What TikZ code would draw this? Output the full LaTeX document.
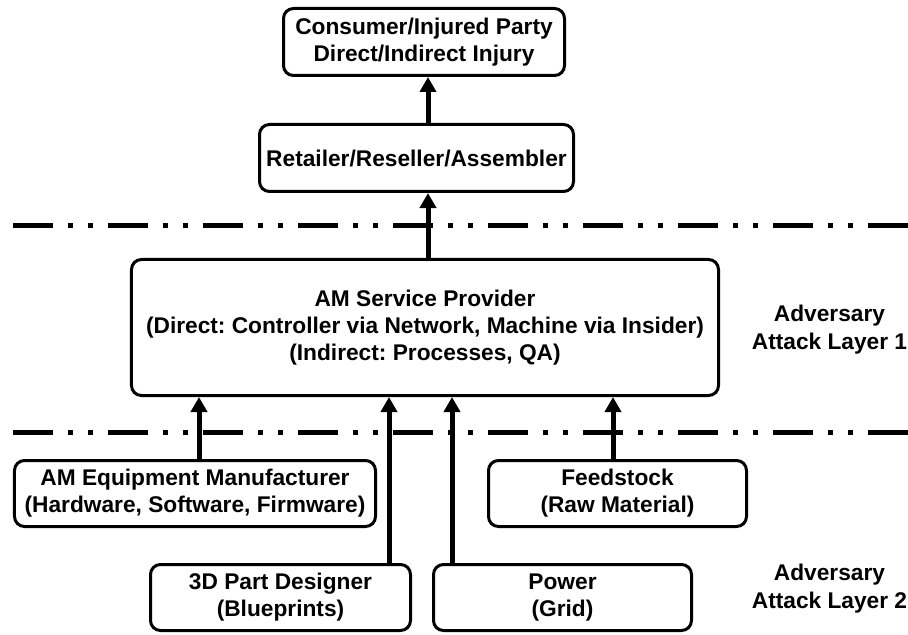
\documentclass[tikz,border=0pt]{standalone}
\usepackage{fontspec}
\setmainfont{Liberation Sans}
\usetikzlibrary{arrows.meta}
\frenchspacing
\begin{document}
\begin{tikzpicture}[x=1bp,y=-1bp,
  box/.style={draw, line width=3bp, rounded corners=10bp, inner sep=0pt, align=center,
    font=\fontsize{22.8}{27}\selectfont\bfseries},
  lbl/.style={inner sep=0pt, align=center, font=\fontsize{22.8}{28}\selectfont\bfseries},
  arr/.style={line width=5bp, -{Triangle[length=15bp,width=16bp]}},
  layerline/.style={line width=5bp, dash pattern=on 40bp off 15bp on 5bp off 15bp on 5bp off 15bp}]
\useasboundingbox (0,0) rectangle (908,635);
% layer lines
\coordinate (l1s) at (13,226); \coordinate (l1e) at (908,226);
\coordinate (l2s) at (13,432); \coordinate (l2e) at (908,432);
\draw[layerline] (l1s) -- (l1e);
\draw[layerline] (l2s) -- (l2e);
% boxes
\node[box, minimum width=281bp, minimum height=67bp] (cons) at (424,42)
  {Consumer/Injured Party\\Direct/Indirect Injury};
\node[box, minimum width=314bp, minimum height=67bp] (ret) at (416.5,158)
  {Retailer/Reseller/Assembler};
\node[box, minimum width=587bp, minimum height=136bp] (sp) at (425,327.5)
  {AM Service Provider\\(Direct: Controller via Network, Machine via Insider)\\(Indirect: Processes, QA)};
\node[box, minimum width=361bp, minimum height=66bp] (ame) at (195,493.5)
  {AM Equipment Manufacturer\\(Hardware, Software, Firmware)};
\node[box, minimum width=258bp, minimum height=66bp] (feed) at (617.5,493.5)
  {Feedstock\\(Raw Material)};
\node[box, minimum width=260bp, minimum height=66bp] (des) at (280.5,597.5)
  {3D Part Designer\\(Blueprints)};
\node[box, minimum width=258bp, minimum height=66bp] (pow) at (562.5,597.5)
  {Power\\(Grid)};
% labels
\node[lbl] (lay1) at (829.5,330) {Adversary\\Attack Layer 1};
\node[lbl] (lay2) at (829.5,589) {Adversary\\Attack Layer 2};
% arrow x positions
\coordinate (xa) at (428,0);
\coordinate (xb) at (199,0);
\coordinate (xc) at (389,0);
\coordinate (xd) at (452,0);
\coordinate (xe) at (613,0);
\draw[arr] (ret.north -| xa) -- (cons.south -| xa);
\draw[arr] (sp.north -| xa) -- (ret.south -| xa);
\draw[arr] (ame.north -| xb) -- (sp.south -| xb);
\draw[arr] (des.north -| xc) -- (sp.south -| xc);
\draw[arr] (pow.north -| xd) -- (sp.south -| xd);
\draw[arr] (feed.north -| xe) -- (sp.south -| xe);
\end{tikzpicture}
\end{document}
